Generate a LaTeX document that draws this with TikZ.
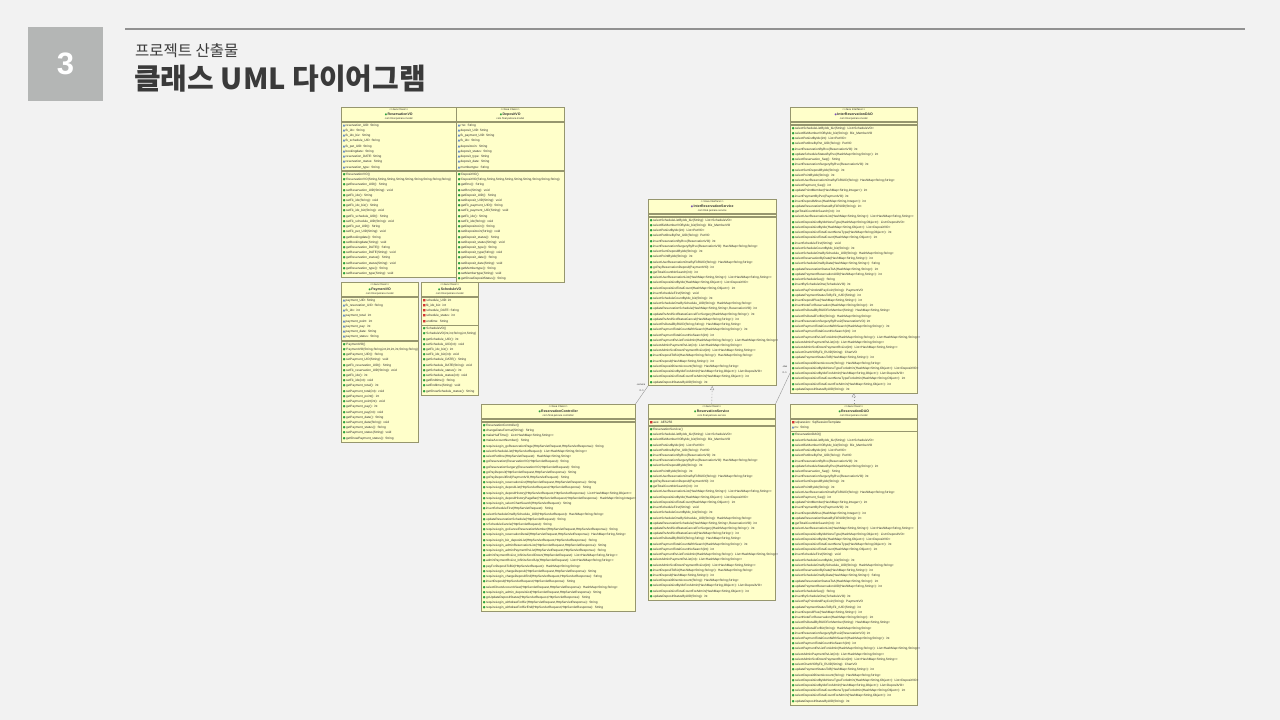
\documentclass[tikz,border=0pt]{standalone}
\usepackage{fontspec}
\usepackage{graphicx}
\usetikzlibrary{positioning,arrows.meta}

\newfontfamily\umlsf{Liberation Sans}
\newfontfamily\symf{DejaVu Sans}
\newfontfamily\krfont{Noto Sans CJK KR}

\definecolor{slidebg}{RGB}{242,242,242}
\definecolor{numbox}{RGB}{180,182,181}
\definecolor{ruleline}{RGB}{145,145,145}
\definecolor{titlegray}{RGB}{58,58,58}
\definecolor{umlfill}{RGB}{255,255,202}
\definecolor{umlline}{RGB}{150,150,110}
\definecolor{umltext}{RGB}{45,45,45}
\definecolor{umlgreen}{RGB}{40,160,60}
\definecolor{umlblue}{RGB}{60,110,200}
\definecolor{umlred}{RGB}{210,50,50}
\definecolor{umlpurple}{RGB}{120,80,180}
\definecolor{connline}{RGB}{150,150,150}

\newcommand\umlfont{\umlsf\fontsize{3.15}{5.22}\selectfont}
\newcommand\hdfont{\umlsf\fontsize{2.6}{4.5}\selectfont}
\newcommand\umlhead[4]{<<#1>>\\{\symf\textcolor{#2}{●}}\,{\fontsize{3.5}{4.5}\selectfont\bfseries #3}\\#4}
\newcommand\fpk[1]{{\symf\textcolor{umlblue}{▲}}\,\mbox{#1}}
\newcommand\fpv[1]{{\symf\textcolor{umlred}{■}}\,\mbox{#1}}
\newcommand\mpb[1]{{\symf\textcolor{umlgreen}{●}}\,\mbox{#1}}
\newcommand\mct[1]{{\symf\textcolor{umlgreen}{●}}\raisebox{1.2pt}{\fontsize{1.8}{2}\selectfont\textcolor{umlgreen}{c}}\mbox{#1}}

\tikzset{
	umlbox/.style={draw=umlline, fill=umlfill, line width=0.5pt, inner xsep=1.5pt, text=umltext},
	hd/.style={umlbox, text width=#1pt, align=center, font=\hdfont, inner ysep=1.4pt},
	bd/.style={umlbox, text width=#1pt, align=left, font=\umlfont, inner ysep=2pt},
	emptyc/.style={umlbox, text width=#1pt, minimum height=2.5pt, inner ysep=0pt},
	assoc/.style={draw=connline, line width=0.4pt},
	realize/.style={draw=connline, line width=0.4pt, dash pattern=on 1.5pt off 1.5pt, -{Triangle[open, length=4pt, width=4pt]}},
	lbl/.style={font=\umlsf\fontsize{2.5}{3}\selectfont, text=umltext, inner sep=0.5pt}
}

% methods shared by interface and implementation
\newcommand\svcmethods{%
\mpb{selectScheduleListByIdx\_biz(String): List<ScheduleVO>}\\
\mpb{selectBizMemberVOByIdx\_biz(String): Biz\_MemberVO}\\
\mpb{selectPetListByIdx(int): List<PetVO>}\\
\mpb{selectPetOneByPet\_UID(String): PetVO}\\
\mpb{insertReservationByRvo(ReservationVO): int}\\
\mpb{insertReservationSurgeryByRvo(ReservationVO): HashMap<String,String>}\\
\mpb{selectSumDepositByIdx(String): int}\\
\mpb{selectPointByIdx(String): int}\\
\mpb{selectUserReservationOneByFkRUID(String): HashMap<String,String>}\\
\mpb{goPayReservationDeposit(PaymentVO): int}\\
\mpb{getTotalCountNoSearch(int): int}\\
\mpb{selectUserReservationList(HashMap<String,String>): List<HashMap<String,String>>}\\
\mpb{selectDepositListByIdx(HashMap<String,Object>): List<DepositVO>}\\
\mpb{selectDepositListTotalCount(HashMap<String,Object>): int}\\
\mpb{insertScheduleFirst(String): void}\\
\mpb{selectScheduleCountByIdx\_biz(String): int}\\
\mpb{selectScheduleOneBySchedule\_UID(String): HashMap<String,String>}\\
\mpb{updateReservationSchedule(HashMap<String,String>,ReservationVO): int}\\
\mpb{updateRvAndScdStatusCancelForSurgery(HashMap<String,String>): int}\\
\mpb{updateRvAndScdStatusCancel(HashMap<String,String>): int}\\
\mpb{selectRvDetailByRUID(String,String): HashMap<String,String>}\\
\mpb{selectPaymentTotalCountWithSearch(HashMap<String,String>): int}\\
\mpb{selectPaymentTotalCountNoSearch(int): int}\\
\mpb{selectPaymentRvListForAdmin(HashMap<String,String>): List<HashMap<String,String>>}\\
\mpb{selectAdminPaymentRvList(int): List<HashMap<String,String>>}\\
\mpb{selectAdminScdDownPaymentRvList(int): List<HashMap<String,String>>}\\
\mpb{insertDepositToBiz(HashMap<String,String>): HashMap<String,String>}\\
\mpb{insertDeposit(HashMap<String,String>): int}\\
\mpb{selectDepositDirectAccount(String): HashMap<String,String>}\\
\mpb{selectDepositListByIdxForAdmin(HashMap<String,Object>): List<DepositVO>}\\
\mpb{selectDepositListTotalCountForAdmin(HashMap<String,Object>): int}\\
\mpb{updateDepositStatusByUID(String): int}}

\newcommand\daomethods{%
\mpb{selectScheduleListByIdx\_biz(String): List<ScheduleVO>}\\
\mpb{selectBizMemberVOByIdx\_biz(String): Biz\_MemberVO}\\
\mpb{selectPetListByIdx(int): List<PetVO>}\\
\mpb{selectPetOneByPet\_UID(String): PetVO}\\
\mpb{insertReservationByRvo(ReservationVO): int}\\
\mpb{updateScheduleStatusByRvo(HashMap<String,String>): int}\\
\mpb{selectReservation\_Seq(): String}\\
\mpb{insertReservationSurgeryByRvo(ReservationVO): int}\\
\mpb{selectSumDepositByIdx(String): int}\\
\mpb{selectPointByIdx(String): int}\\
\mpb{selectUserReservationOneByFkRUID(String): HashMap<String,String>}\\
\mpb{selectPayment\_Seq(): int}\\
\mpb{updatePointMember(HashMap<String,Integer>): int}\\
\mpb{insertPaymentByPvo(PaymentVO): int}\\
\mpb{insertDepositMinus(HashMap<String,Integer>): int}\\
\mpb{updateReservationStatusByFkRUID(String): int}\\
\mpb{getTotalCountNoSearch(int): int}\\
\mpb{selectUserReservationList(HashMap<String,String>): List<HashMap<String,String>>}\\
\mpb{selectDepositListByIdxNoneType(HashMap<String,Object>): List<DepositVO>}\\
\mpb{selectDepositListByIdx(HashMap<String,Object>): List<DepositVO>}\\
\mpb{selectDepositListTotalCountNoneType(HashMap<String,Object>): int}\\
\mpb{selectDepositListTotalCount(HashMap<String,Object>): int}\\
\mpb{insertScheduleFirst(String): void}\\
\mpb{selectScheduleCountByIdx\_biz(String): int}\\
\mpb{selectScheduleOneBySchedule\_UID(String): HashMap<String,String>}\\
\mpb{selectReservationByDate(HashMap<String,String>): int}\\
\mpb{selectScheduleOneByDate(HashMap<String,String>): String}\\
\mpb{updateReservationStatusToA(HashMap<String,String>): int}\\
\mpb{updatePaymentReservationUID(HashMap<String,String>): int}\\
\mpb{selectScheduleSeq(): String}\\
\mpb{insertByScheduleOne(ScheduleVO): int}\\
\mpb{selectPayPointAndPayCoin(String): PaymentVO}\\
\mpb{updatePaymentStatusToByFk\_rUID(String): int}\\
\mpb{insertDepositPlus(HashMap<String,String>): int}\\
\mpb{insertNoteForReservation(HashMap<String,String>): int}\\
\mpb{selectRvDetailByRUIDForMember(String): HashMap<String,String>}\\
\mpb{selectRvDetailForBiz(String): HashMap<String,String>}\\
\mpb{insertReservationSurgeryByRvo2(ReservationVO): int}\\
\mpb{selectPaymentTotalCountWithSearch(HashMap<String,String>): int}\\
\mpb{selectPaymentTotalCountNoSearch(int): int}\\
\mpb{selectPaymentRvListForAdmin(HashMap<String,String>): List<HashMap<String,String>>}\\
\mpb{selectAdminPaymentRvList(int): List<HashMap<String,String>>}\\
\mpb{selectAdminScdDownPaymentRvList(int): List<HashMap<String,String>>}\\
\mpb{selectChartVOByFk\_RUID(String): ChartVO}\\
\mpb{updatePaymentStatusToB(HashMap<String,String>): int}\\
\mpb{selectDepositDirectAccount(String): HashMap<String,String>}\\
\mpb{selectDepositListByIdxNoneTypeForAdmin(HashMap<String,Object>): List<DepositVO>}\\
\mpb{selectDepositListByIdxForAdmin(HashMap<String,Object>): List<DepositVO>}\\
\mpb{selectDepositListTotalCountNoneTypeForAdmin(HashMap<String,Object>): int}\\
\mpb{selectDepositListTotalCountForAdmin(HashMap<String,Object>): int}\\
\mpb{updateDepositStatusByUID(String): int}}

\begin{document}
\begin{tikzpicture}[x=1pt, y=-1pt]

	% slide
	\fill[slidebg] (0,0) rectangle (1280,720);
	\useasboundingbox (0,0) rectangle (1280,720);
	\fill[numbox] (28,27) rectangle (103,101);
	\node[font=\umlsf\bfseries\fontsize{31}{31}\selectfont, text=white] (num) at (65.5,64) {3};
	\draw[ruleline, line width=2pt] (125,29) -- (1245,29);
	\node[anchor=base west, inner sep=0pt, font=\krfont\fontsize{15.5}{15.5}\selectfont, text=titlegray] (subt) at (135,56) {프로젝트 산출물};
	\node[anchor=base west, inner sep=0pt, font=\krfont\bfseries\fontsize{29}{29}\selectfont, text=titlegray] (title) at (134,89) {클래스 UML 다이어그램};

	% ReservationVO
	\node[hd=112, anchor=north west] (rvoH) at (341,107) {\umlhead{Java Class}{umlgreen}{ReservationVO}{com.final.petcare.model}};
	\node[bd=112, below=0pt of rvoH] (rvoF) {\fpk{reservation\_UID: String}\\ \fpk{fk\_idx: String}\\ \fpk{fk\_idx\_biz: String}\\ \fpk{fk\_schedule\_UID: String}\\ \fpk{fk\_pet\_UID: String}\\ \fpk{bookingdate: String}\\ \fpk{reservation\_DATE: String}\\ \fpk{reservation\_status: String}\\ \fpk{reservation\_type: String}};
	\node[bd=112, below=0pt of rvoF] (rvoM) {\mct{ReservationVO()}\\
		\mct{ReservationVO(String,String,String,String,String,String,String,String,String)}\\
		\mpb{getReservation\_UID(): String}\\ \mpb{setReservation\_UID(String): void}\\
		\mpb{getFk\_idx(): String}\\ \mpb{setFk\_idx(String): void}\\
		\mpb{getFk\_idx\_biz(): String}\\ \mpb{setFk\_idx\_biz(String): void}\\
		\mpb{getFk\_schedule\_UID(): String}\\ \mpb{setFk\_schedule\_UID(String): void}\\
		\mpb{getFk\_pet\_UID(): String}\\ \mpb{setFk\_pet\_UID(String): void}\\
		\mpb{getBookingdate(): String}\\ \mpb{setBookingdate(String): void}\\
		\mpb{getReservation\_DATE(): String}\\ \mpb{setReservation\_DATE(String): void}\\
		\mpb{getReservation\_status(): String}\\ \mpb{setReservation\_status(String): void}\\
		\mpb{getReservation\_type(): String}\\ \mpb{setReservation\_type(String): void}};

	% DepositVO
	\node[hd=105, anchor=north west] (dvoH) at (456,107) {\umlhead{Java Class}{umlgreen}{DepositVO}{com.final.petcare.model}};
	\node[bd=105, below=0pt of dvoH] (dvoF) {\fpk{rno: String}\\ \fpk{deposit\_UID: String}\\ \fpk{fk\_payment\_UID: String}\\ \fpk{fk\_idx: String}\\ \fpk{depositcoin: String}\\ \fpk{deposit\_status: String}\\ \fpk{deposit\_type: String}\\ \fpk{deposit\_date: String}\\ \fpk{membertype: String}};
	\node[bd=105, below=0pt of dvoF] (dvoM) {\mct{DepositVO()}\\
		\mct{DepositVO(String,String,String,String,String,String,String,String,String)}\\
		\mpb{getRno(): String}\\ \mpb{setRno(String): void}\\
		\mpb{getDeposit\_UID(): String}\\ \mpb{setDeposit\_UID(String): void}\\
		\mpb{getFk\_payment\_UID(): String}\\ \mpb{setFk\_payment\_UID(String): void}\\
		\mpb{getFk\_idx(): String}\\ \mpb{setFk\_idx(String): void}\\
		\mpb{getDepositcoin(): String}\\ \mpb{setDepositcoin(String): void}\\
		\mpb{getDeposit\_status(): String}\\ \mpb{setDeposit\_status(String): void}\\
		\mpb{getDeposit\_type(): String}\\ \mpb{setDeposit\_type(String): void}\\
		\mpb{getDeposit\_date(): String}\\ \mpb{setDeposit\_date(String): void}\\
		\mpb{getMembertype(): String}\\ \mpb{setMembertype(String): void}\\
		\mpb{getShowDepositStatus(): String}};

	% PaymentVO
	\node[hd=74, anchor=north west] (pvoH) at (341,282) {\umlhead{Java Class}{umlgreen}{PaymentVO}{com.final.petcare.model}};
	\node[bd=74, below=0pt of pvoH] (pvoF) {\fpk{payment\_UID: String}\\ \fpk{fk\_reservation\_UID: String}\\ \fpk{fk\_idx: int}\\ \fpk{payment\_total: int}\\ \fpk{payment\_point: int}\\ \fpk{payment\_pay: int}\\ \fpk{payment\_date: String}\\ \fpk{payment\_status: String}};
	\node[bd=74, below=0pt of pvoF] (pvoM) {\mct{PaymentVO()}\\
		\mct{PaymentVO(String,String,int,int,int,int,String,String)}\\
		\mpb{getPayment\_UID(): String}\\ \mpb{setPayment\_UID(String): void}\\
		\mpb{getFk\_reservation\_UID(): String}\\ \mpb{setFk\_reservation\_UID(String): void}\\
		\mpb{getFk\_idx(): int}\\ \mpb{setFk\_idx(int): void}\\
		\mpb{getPayment\_total(): int}\\ \mpb{setPayment\_total(int): void}\\
		\mpb{getPayment\_point(): int}\\ \mpb{setPayment\_point(int): void}\\
		\mpb{getPayment\_pay(): int}\\ \mpb{setPayment\_pay(int): void}\\
		\mpb{getPayment\_date(): String}\\ \mpb{setPayment\_date(String): void}\\
		\mpb{getPayment\_status(): String}\\ \mpb{setPayment\_status(String): void}\\
		\mpb{getShowPayment\_status(): String}};

	% ScheduleVO
	\node[hd=54, anchor=north west] (svoH) at (421,282) {\umlhead{Java Class}{umlgreen}{ScheduleVO}{com.final.petcare.model}};
	\node[bd=54, below=0pt of svoH] (svoF) {\fpv{schedule\_UID: int}\\ \fpv{fk\_idx\_biz: int}\\ \fpv{schedule\_DATE: String}\\ \fpv{schedule\_status: int}\\ \fpv{endtime: String}};
	\node[bd=54, below=0pt of svoF] (svoM) {\mct{ScheduleVO()}\\
		\mct{ScheduleVO(int,int,String,int,String)}\\
		\mpb{getSchedule\_UID(): int}\\ \mpb{setSchedule\_UID(int): void}\\
		\mpb{getFk\_idx\_biz(): int}\\ \mpb{setFk\_idx\_biz(int): void}\\
		\mpb{getSchedule\_DATE(): String}\\ \mpb{setSchedule\_DATE(String): void}\\
		\mpb{getSchedule\_status(): int}\\ \mpb{setSchedule\_status(int): void}\\
		\mpb{getEndtime(): String}\\ \mpb{setEndtime(String): void}\\
		\mpb{getShowSchedule\_status(): String}};

	% InterReservationService
	\node[hd=125, anchor=north west] (isvcH) at (648,199) {\umlhead{Java Interface}{umlpurple}{InterReservationService}{com.final.petcare.service}};
	\node[emptyc=125, below=0pt of isvcH] (isvcF) {};
	\node[bd=125, below=0pt of isvcF] (isvcM) {\svcmethods};

	% InterReservationDAO
	\node[hd=124, anchor=north west] (idaoH) at (790,107) {\umlhead{Java Interface}{umlpurple}{InterReservationDAO}{com.final.petcare.model}};
	\node[emptyc=124, below=0pt of idaoH] (idaoF) {};
	\node[bd=124, below=0pt of idaoF] (idaoM) {\daomethods};

	% ReservationController
	\node[hd=151, anchor=north west] (ctrlH) at (481,404) {\umlhead{Java Class}{umlgreen}{ReservationController}{com.final.petcare.controller}};
	\node[emptyc=151, below=0pt of ctrlH] (ctrlF) {};
	\node[bd=151, below=0pt of ctrlF] (ctrlM) {\mct{ReservationController()}\\
		\mpb{changeDateFormat(String): String}\\
		\mpb{makeHalfTime(): List<HashMap<String,String>>}\\
		\mpb{makeAccountNumber(): String}\\
		\mpb{requireLogin\_goReservationPage(HttpServletRequest,HttpServletResponse): String}\\
		\mpb{selectScheduleList(HttpServletRequest): List<HashMap<String,String>>}\\
		\mpb{selectPetOne(HttpServletRequest): HashMap<String,String>}\\
		\mpb{goReservation(ReservationVO,HttpServletRequest): String}\\
		\mpb{goReservationSurgery(ReservationVO,HttpServletRequest): String}\\
		\mpb{goPayDeposit(HttpServletRequest,HttpServletResponse): String}\\
		\mpb{goPayDepositEnd(PaymentVO,HttpServletRequest): String}\\
		\mpb{requireLogin\_reservationList(HttpServletRequest,HttpServletResponse): String}\\
		\mpb{requireLogin\_depositList(HttpServletRequest,HttpServletResponse): String}\\
		\mpb{requireLogin\_depositHistory(HttpServletRequest,HttpServletResponse): List<HashMap<String,Object>>}\\
		\mpb{requireLogin\_depositHistoryPageBar(HttpServletRequest,HttpServletResponse): HashMap<String,Integer>}\\
		\mpb{requireLogin\_selectChartSearch(HttpServletRequest): String}\\
		\mpb{insertScheduleFirst(HttpServletRequest): String}\\
		\mpb{selectScheduleOneBySchedule\_UID(HttpServletRequest): HashMap<String,String>}\\
		\mpb{updateReservationSchedule(HttpServletRequest): String}\\
		\mpb{rvScheduleCancle(HttpServletRequest): String}\\
		\mpb{requireLogin\_goCancelReservationMember(HttpServletRequest,HttpServletResponse): String}\\
		\mpb{requireLogin\_reservationDetail(HttpServletRequest,HttpServletResponse): HashMap<String,String>}\\
		\mpb{requireLogin\_biz\_depositList(HttpServletRequest,HttpServletResponse): String}\\
		\mpb{requireLogin\_adminReservationList(HttpServletRequest,HttpServletResponse): String}\\
		\mpb{requireLogin\_adminPaymentRvList(HttpServletRequest,HttpServletResponse): String}\\
		\mpb{adminPaymentRvList\_InfiniteScrollDown(HttpServletRequest): List<HashMap<String,String>>}\\
		\mpb{adminPaymentRvList\_InfiniteScrollUp(HttpServletRequest): List<HashMap<String,String>>}\\
		\mpb{payForDepositToBiz(HttpServletRequest): HashMap<String,String>}\\
		\mpb{requireLogin\_chargeDeposit(HttpServletRequest,HttpServletResponse): String}\\
		\mpb{requireLogin\_chargeDepositEnd(HttpServletRequest,HttpServletResponse): String}\\
		\mpb{insertDeposit(HttpServletRequest,HttpServletResponse): String}\\
		\mpb{selectDirectAccountView(HttpServletRequest,HttpServletResponse): HashMap<String,String>}\\
		\mpb{requireLogin\_admin\_depositList(HttpServletRequest,HttpServletResponse): String}\\
		\mpb{goUpdateDepositStatus(HttpServletRequest,HttpServletResponse): String}\\
		\mpb{requireLogin\_withdrawForBiz(HttpServletRequest,HttpServletResponse): String}\\
		\mpb{requireLogin\_withdrawForBizEnd(HttpServletRequest,HttpServletResponse): String}};

	% ReservationService
	\node[hd=124, anchor=north west] (svcH) at (648,404) {\umlhead{Java Class}{umlgreen}{ReservationService}{com.final.petcare.service}};
	\node[bd=124, below=0pt of svcH] (svcF) {\fpv{aes: AES256}};
	\node[bd=124, below=0pt of svcF] (svcM) {\mct{ReservationService()}\\ \svcmethods};

	% ReservationDAO
	\node[hd=124, anchor=north west] (daoH) at (790,404) {\umlhead{Java Class}{umlgreen}{ReservationDAO}{com.final.petcare.model}};
	\node[bd=124, below=0pt of daoH] (daoF) {\fpv{sqlsession: SqlSessionTemplate}\\ \fpk{ns: String}};
	\node[bd=124, below=0pt of daoF] (daoM) {\mct{ReservationDAO()}\\ \daomethods};

	% connectors
	\draw[assoc] (ctrlH.north east) -- (isvcM.south west)
		node[lbl, at end, anchor=south east, xshift=-2pt] {-service}
		node[lbl, at end, anchor=north east, xshift=-3.5pt, yshift=-3pt] {0..1};
	\draw[assoc] (svcH.north east) -- ([yshift=20pt]idaoM.south west)
		node[lbl, at end, anchor=south east, xshift=-2pt, yshift=5pt] {-dao}
		node[lbl, at end, anchor=east, xshift=-2.5pt, yshift=0.5pt] {0..1};
	\draw[realize] (svcH.north) -- (isvcM.south);
	\draw[realize] (daoH.north) -- (idaoM.south);

\end{tikzpicture}
\end{document}
